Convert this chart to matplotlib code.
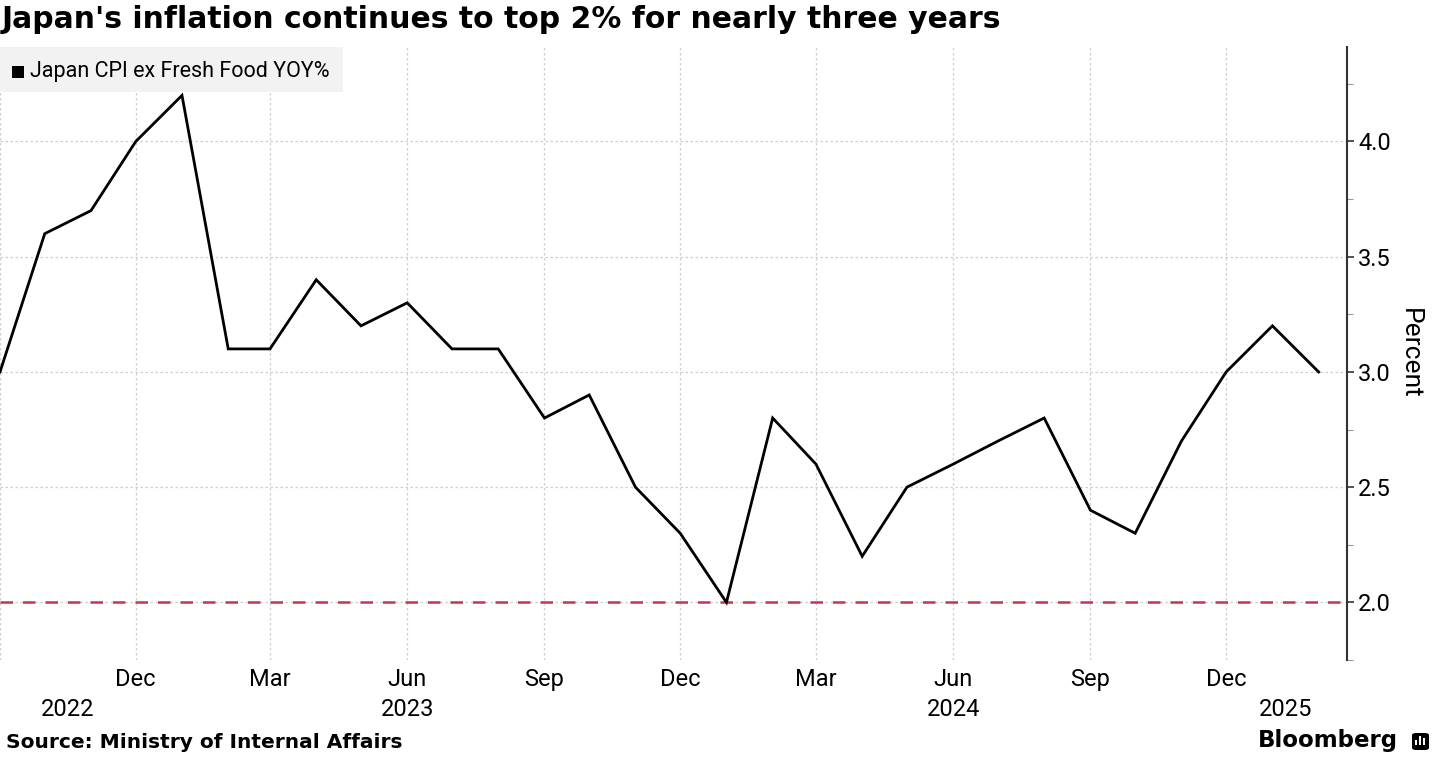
import numpy as np
import pandas as pd
import matplotlib
matplotlib.use("Agg")
import matplotlib.pyplot as plt
import matplotlib.dates as mdates
from matplotlib.patches import Rectangle, FancyBboxPatch

# ---- data ----
start_month = "2022-09-01"
cpi_values = [3.0, 3.6, 3.7, 4.0, 4.2, 3.1, 3.1, 3.4, 3.2, 3.3, 3.1, 3.1,
              2.8, 2.9, 2.5, 2.3, 2.0, 2.8, 2.6, 2.2, 2.5, 2.6, 2.7, 2.8,
              2.4, 2.3, 2.7, 3.0, 3.2, 3.0]
series_label = "Japan CPI ex Fresh Food YOY%"
target_level = 2.0
y_ticks = [2.0, 2.5, 3.0, 3.5, 4.0]
year_labels = ["2022", "2023", "2024", "2025"]
year_label_dates = ["2022-10-16", "2023-06-01", "2024-06-01", "2025-01-10"]
title = "Japan's inflation continues to top 2% for nearly three years"
source = "Source: Ministry of Internal Affairs"

dates = pd.date_range(start_month, periods=len(cpi_values), freq="MS")

TICKFONT = ["Roboto", "DejaVu Sans"]

fig = plt.figure(figsize=(14.33, 7.57), dpi=100)
W, H = 1433, 757
ax = fig.add_axes([0, 1 - 660 / H, 1347 / W, (660 - 47) / H])

ax.plot(dates, cpi_values, color="black", lw=2.0, zorder=3, solid_joinstyle="miter")
ax.axhline(target_level, color="#c4364d", lw=1.8, ls=(0, (5, 4)), zorder=2)

x0 = mdates.date2num(dates[0])
x_end = mdates.date2num(pd.Timestamp("2025-02-20"))
ax.set_xlim(x0, x_end)
ax.set_ylim(1.79, 4.41)

ax.xaxis.set_major_locator(mdates.MonthLocator(bymonth=[3, 6, 9, 12]))
ax.xaxis.set_major_formatter(mdates.DateFormatter("%b"))
ax.set_yticks(y_ticks)
ax.set_yticklabels([f"{v:.1f}" for v in y_ticks])
ax.set_yticks(np.arange(1.75, 4.5, 0.25), minor=True)
ax.yaxis.tick_right()
ax.yaxis.set_label_position("right")

for s in ["left", "top", "bottom"]:
    ax.spines[s].set_visible(False)
ax.spines["right"].set_color("#333333")
ax.spines["right"].set_linewidth(1.5)

ax.grid(True, which="major", color="#cfcfcf", ls=(0, (2, 2)), lw=0.9)
ax.tick_params(axis="x", length=0, pad=6, labelsize=17)
ax.tick_params(axis="y", which="major", length=5, width=1.2, pad=3, labelsize=17, color="#333333")
ax.tick_params(axis="y", which="minor", length=4, width=0.8, color="#999999")
for lab in ax.get_xticklabels() + ax.get_yticklabels():
    lab.set_family(TICKFONT)
# hide a clipped first label (Sep 2022 at the left edge)
fig.canvas.draw()
for lab in ax.get_xticklabels():
    x = lab.get_position()[0]
    if x < x0 + 5:
        lab.set_visible(False)

ax.set_ylabel("Percent", rotation=-90, labelpad=22, fontsize=19, family=TICKFONT)

# year labels
for lbl, d in zip(year_labels, year_label_dates):
    ax.text(mdates.date2num(pd.Timestamp(d)), -0.08, lbl, transform=ax.get_xaxis_transform(),
            ha="center", va="center", fontsize=17, family=TICKFONT, clip_on=False)

# legend box
fig.patches.append(Rectangle((0, 1 - 92 / H), 343 / W, 45 / H, transform=fig.transFigure,
                             facecolor="#f2f2f2", edgecolor="none", zorder=5))
fig.patches.append(Rectangle((12 / W, 1 - 78 / H), 12 / W, 12 / H, transform=fig.transFigure,
                             facecolor="black", edgecolor="none", zorder=6))
fig.text(30 / W, 1 - 72 / H, series_label, fontsize=15.5, family=TICKFONT, va="center", ha="left", zorder=7)

# title & footer
fig.text(2 / W, 1 - 19 / H, title, fontsize=21.5, fontweight="bold", va="center", ha="left")
fig.text(6 / W, 1 - 742 / H, source, fontsize=14.5, fontweight="bold", va="center", ha="left")
fig.text(1398 / W, 1 - 741 / H, "Bloomberg", fontsize=16.5, fontweight="bold", va="center", ha="right")
fig.patches.append(FancyBboxPatch((1412 / W, 1 - 750 / H), 17 / W, 17 / H, transform=fig.transFigure,
                                  boxstyle="round,pad=0,rounding_size=0.003",
                                  facecolor="black", edgecolor="none"))
for i, hgt in enumerate([5, 9, 7]):
    fig.patches.append(Rectangle(((1415 + i * 4) / W, 1 - 745 / H), 2 / W, hgt / H,
                                 transform=fig.transFigure, facecolor="white", edgecolor="none"))

fig.savefig("out.png", dpi=100)
